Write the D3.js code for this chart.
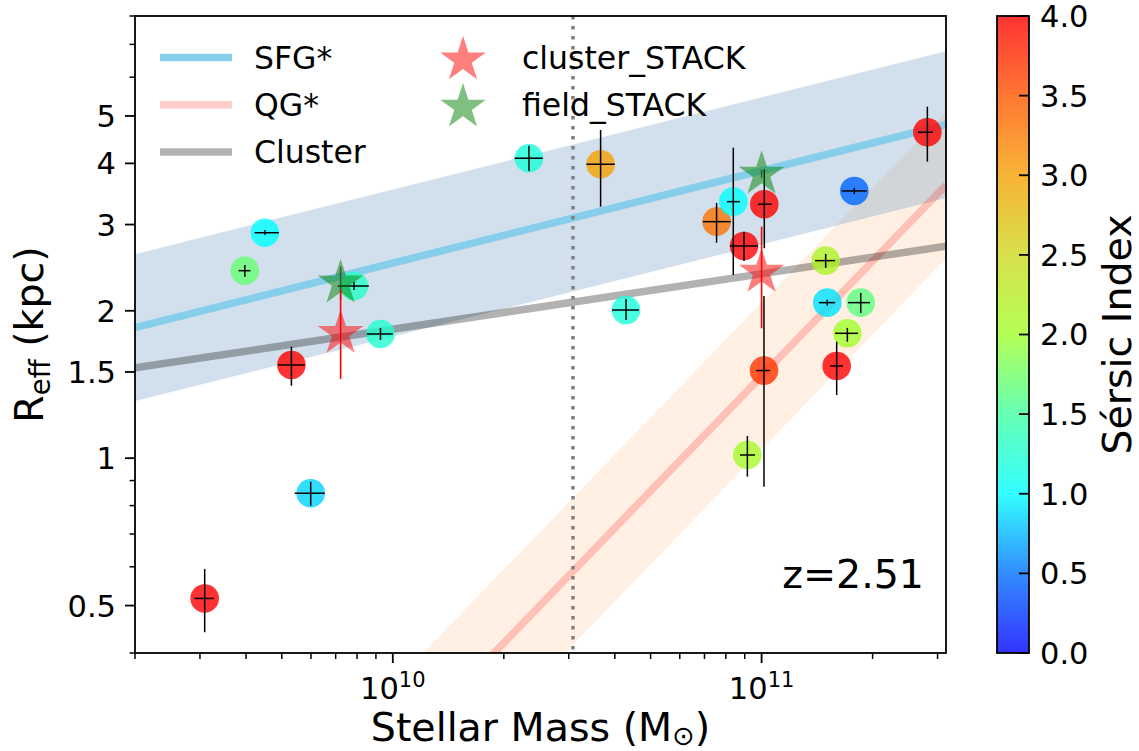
<!DOCTYPE html>
<html>
<head>
<meta charset="utf-8">
<script src="https://cdn.jsdelivr.net/npm/d3@7"></script>
<style>
  body { margin: 0; background: #fff; }
  svg { display: block; }
  text { font-family: "DejaVu Sans", sans-serif; fill: #000; }
</style>
</head>
<body>
<svg id="chart" width="1139" height="751"></svg>
<script>
// Effective radius vs stellar mass for cluster members at z=2.51, coloured by Sérsic index.

// ---- galaxies (stellar mass in Msun, Reff in kpc) ----
const mass    = [3.09e9, 5.99e9, 5.31e9, 4.50e9, 3.97e9, 7.85e9, 9.26e9, 2.34e10, 3.66e10, 4.29e10,
                 7.55e10, 8.38e10, 8.96e10, 1.017e11, 1.015e11, 9.15e10, 1.784e11, 1.492e11, 1.507e11,
                 1.857e11, 1.708e11, 1.598e11, 2.815e11];
const massLo  = [2.90e9, 5.42e9, 4.88e9, 4.22e9, 3.82e9, 7.09e9, 8.50e9, 2.14e10, 3.35e10, 3.93e10,
                 6.93e10, 8.06e10, 8.21e10, 9.78e10, 9.66e10, 8.74e10, 1.649e11, 1.396e11, 1.431e11,
                 1.715e11, 1.582e11, 1.533e11, 2.656e11];
const massHi  = [3.27e9, 6.54e9, 5.77e9, 4.91e9, 4.11e9, 8.61e9, 1.00e10, 2.55e10, 4.00e10, 4.65e10,
                 8.25e10, 8.74e10, 9.78e10, 1.065e11, 1.054e11, 9.60e10, 1.928e11, 1.582e11, 1.582e11,
                 1.968e11, 1.826e11, 1.663e11, 2.917e11];
const reff    = [0.517, 0.848, 1.550, 2.887, 2.415, 2.247, 1.793, 4.098, 3.984, 2.007,
                 3.041, 3.341, 2.713, 3.301, 1.510, 1.015, 3.514, 2.532, 2.078,
                 2.078, 1.799, 1.543, 4.631];
const reffLo  = [0.441, 0.799, 1.406, 2.856, 2.348, 2.205, 1.743, 3.860, 3.264, 1.915,
                 2.755, 2.366, 2.528, 2.684, 0.874, 0.917, 3.464, 2.446, 2.049,
                 1.980, 1.729, 1.346, 4.033];
const reffHi  = [0.594, 0.895, 1.689, 2.924, 2.481, 2.290, 1.845, 4.347, 4.681, 2.114,
                 3.321, 4.306, 2.901, 3.891, 2.144, 1.110, 3.564, 2.613, 2.107,
                 2.175, 1.845, 1.729, 5.223];
const sersic  = [4.0, 0.85, 4.0, 1.0, 1.7, 1.3, 1.25, 1.2, 3.0, 1.2,
                 3.3, 1.0, 4.0, 4.0, 3.7, 2.05, 0.45, 2.15, 0.9,
                 1.65, 2.0, 4.0, 4.0];

// ---- stacked measurements ----
const stackMass        = [7.22e9, 1.0e11];
const clusterStackReff = [1.798, 2.397];
const clusterStackLo   = [1.451, 1.842];
const clusterStackHi   = [2.205, 2.970];
const fieldStackReff   = [2.279, 3.802];
const fieldStackLo     = [2.104, 3.735];
const fieldStackHi     = [2.461, 3.878];

// ---- size-mass relations: Reff = A * (M / 5e10)^alpha, band = +/- scatter dex ----
const relPivot   = 5e10;
const sfgNorm = 3.39, sfgSlope = 0.1885, sfgScatter = 0.15;
const qgNorm  = 0.857, qgSlope = 0.78,  qgScatter  = 0.15;
const clusterNorm = 2.20, clusterSlope = 0.113;
const massLimit = 3.08e10;
const redshiftLabel = "z=2.51";

// ---- axis ticks ----
const yTickLabels = [0.5, 1, 1.5, 2, 3, 4, 5];
const cbarTicks   = [0, 0.5, 1, 1.5, 2, 2.5, 3, 3.5, 4];

// ---- colour map for the Sérsic index ----
const sersicStops  = [0, 0.5, 1, 1.5, 2, 2.5, 3, 3.5, 4];
const sersicColors = ["#0000ff", "#006fff", "#00ffff", "#40ffa1", "#a1ff2b",
                      "#cdd91e", "#f6a105", "#ff5500", "#ff0000"];

// ---- layout ----
const W = 1139, H = 751;
const plot = { left: 135, right: 946, top: 16, bottom: 653 };
const cbar = { left: 997, right: 1029 };
const tickFont = 30.5, legendFont = 31.5, labelFont = 39.5;

const svg = d3.select("#chart");
svg.append("rect").attr("width", W).attr("height", H).attr("fill", "#fff");

const x = d3.scaleLog().domain([2e9, Math.pow(10, 11.5)]).range([plot.left, plot.right]);
const y = d3.scaleLog().domain([0.4, 8]).range([plot.bottom, plot.top]);
const color = d3.scaleLinear().domain(sersicStops).range(sersicColors)
  .interpolate(d3.interpolateRgb).clamp(true);

svg.append("defs").append("clipPath").attr("id", "plotClip")
  .append("rect")
  .attr("x", plot.left).attr("y", plot.top)
  .attr("width", plot.right - plot.left).attr("height", plot.bottom - plot.top);

const g = svg.append("g").attr("clip-path", "url(#plotClip)");

const relation = (A, a) => m => A * Math.pow(m / relPivot, a);
const sfg = relation(sfgNorm, sfgSlope);
const qg = relation(qgNorm, qgSlope);
const clus = relation(clusterNorm, clusterSlope);
const ends = x.domain();

// scatter bands
function band(fn, dex, fill, op) {
  const f = Math.pow(10, dex);
  const area = d3.area().x(m => x(m)).y0(m => y(fn(m) / f)).y1(m => y(fn(m) * f));
  g.append("path").attr("d", area(ends)).attr("fill", fill).attr("fill-opacity", op);
}
band(qg, qgScatter, "#ffdab9", 0.4);
band(sfg, sfgScatter, "steelblue", 0.25);

// relations
function relLine(fn, stroke, op) {
  const line = d3.line().x(m => x(m)).y(m => y(fn(m)));
  g.append("path").attr("d", line(ends)).attr("fill", "none")
    .attr("stroke", stroke).attr("stroke-opacity", op).attr("stroke-width", 7.5);
}
relLine(sfg, "skyblue", 1);
relLine(qg, "red", 0.2);
relLine(clus, "black", 0.3);

// mass completeness limit
g.append("line")
  .attr("x1", x(massLimit)).attr("x2", x(massLimit))
  .attr("y1", plot.top).attr("y2", plot.bottom)
  .attr("stroke", "gray").attr("stroke-width", 3.5).attr("stroke-dasharray", "3.5 6.5");

// galaxies
const gal = mass.map((m, i) => ({ m, mLo: massLo[i], mHi: massHi[i], r: reff[i],
  rLo: reffLo[i], rHi: reffHi[i], n: sersic[i] }));

g.selectAll("circle.gal").data(gal).join("circle")
  .attr("class", "gal")
  .attr("cx", d => x(d.m)).attr("cy", d => y(d.r)).attr("r", 14.3)
  .attr("fill", d => color(d.n)).attr("fill-opacity", 0.8);

const eb = g.append("g").attr("stroke", "#000").attr("stroke-width", 1.5);
eb.selectAll("line.ex").data(gal).join("line").attr("class", "ex")
  .attr("x1", d => x(d.mLo)).attr("x2", d => x(d.mHi))
  .attr("y1", d => y(d.r)).attr("y2", d => y(d.r));
eb.selectAll("line.ey").data(gal).join("line").attr("class", "ey")
  .attr("x1", d => x(d.m)).attr("x2", d => x(d.m))
  .attr("y1", d => y(d.rLo)).attr("y2", d => y(d.rHi));

// stars
function starPath(R) {
  const pts = [];
  for (let k = 0; k < 10; k++) {
    const rr = k % 2 === 0 ? R : R * 0.381966;
    const a = -Math.PI / 2 + k * Math.PI / 5;
    pts.push([rr * Math.cos(a), rr * Math.sin(a)]);
  }
  return "M" + pts.map(p => p.join(",")).join("L") + "Z";
}
const starR = 24;

function stacks(vals, lo, hi, fill, errColor, errOp) {
  const d = stackMass.map((m, i) => ({ m, r: vals[i], lo: lo[i], hi: hi[i] }));
  const s = g.append("g");
  s.selectAll("path").data(d).join("path")
    .attr("d", starPath(starR))
    .attr("transform", p => `translate(${x(p.m)},${y(p.r)})`)
    .attr("fill", fill).attr("fill-opacity", 0.5);
  s.selectAll("line").data(d).join("line")
    .attr("x1", p => x(p.m)).attr("x2", p => x(p.m))
    .attr("y1", p => y(p.lo)).attr("y2", p => y(p.hi))
    .attr("stroke", errColor).attr("stroke-opacity", errOp).attr("stroke-width", 1.6);
}
stacks(fieldStackReff, fieldStackLo, fieldStackHi, "green", "#333", 0.7);
stacks(clusterStackReff, clusterStackLo, clusterStackHi, "red", "red", 1);

// ---- axes ----
const ax = svg.append("g");
ax.append("rect")
  .attr("x", plot.left).attr("y", plot.top)
  .attr("width", plot.right - plot.left).attr("height", plot.bottom - plot.top)
  .attr("fill", "none").attr("stroke", "#000").attr("stroke-width", 1.8);

// x ticks
const xt = x.ticks().filter(v => v >= ends[0] * 0.999 && v <= ends[1]);
xt.forEach(v => {
  const major = Math.abs(Math.log10(v) - Math.round(Math.log10(v))) < 1e-6;
  ax.append("line").attr("x1", x(v)).attr("x2", x(v))
    .attr("y1", plot.bottom).attr("y2", plot.bottom + (major ? 10 : 6))
    .attr("stroke", "#000").attr("stroke-width", major ? 1.8 : 1.5);
  if (major) {
    const t = ax.append("text").attr("x", x(v)).attr("y", 699)
      .attr("text-anchor", "middle").attr("font-size", tickFont);
    t.append("tspan").text("10");
    t.append("tspan").attr("font-size", 21).attr("dy", -12).text(Math.round(Math.log10(v)));
  }
});

// y ticks
const ymin = y.ticks().filter(v => !yTickLabels.some(l => Math.abs(l - v) < 1e-9));
ymin.forEach(v => {
  ax.append("line").attr("x1", plot.left - 5.5).attr("x2", plot.left)
    .attr("y1", y(v)).attr("y2", y(v)).attr("stroke", "#000").attr("stroke-width", 1.5);
});
yTickLabels.forEach(v => {
  ax.append("line").attr("x1", plot.left - 10).attr("x2", plot.left)
    .attr("y1", y(v)).attr("y2", y(v)).attr("stroke", "#000").attr("stroke-width", 1.8);
  ax.append("text").attr("x", plot.left - 19).attr("y", y(v))
    .attr("dy", "0.36em").attr("text-anchor", "end").attr("font-size", tickFont)
    .text(v);
});

// axis labels
const xl = svg.append("text").attr("x", (plot.left + plot.right) / 2).attr("y", 741)
  .attr("text-anchor", "middle").attr("font-size", labelFont);
xl.append("tspan").text("Stellar Mass (M");
xl.append("tspan").attr("font-size", 27).attr("dy", 4).text("\u2299");
xl.append("tspan").attr("dy", -4).text(")");

const yl = svg.append("text")
  .attr("transform", `translate(43,${(plot.top + plot.bottom) / 2}) rotate(-90)`)
  .attr("text-anchor", "middle").attr("font-size", labelFont);
yl.append("tspan").text("R");
yl.append("tspan").attr("font-size", 27.5).attr("dy", 7).text("eff");
yl.append("tspan").attr("dy", -7).text(" (kpc)");

svg.append("text").attr("x", 924).attr("y", 588).attr("text-anchor", "end")
  .attr("font-size", labelFont).text(redshiftLabel);

// ---- legend ----
const leg = svg.append("g");
const legLines = [
  { label: "SFG*", stroke: "skyblue", op: 1 },
  { label: "QG*", stroke: "red", op: 0.2 },
  { label: "Cluster", stroke: "black", op: 0.3 }
];
legLines.forEach((d, i) => {
  const yy = 57.5 + i * 47.3;
  leg.append("line").attr("x1", 160).attr("x2", 232).attr("y1", yy).attr("y2", yy)
    .attr("stroke", d.stroke).attr("stroke-opacity", d.op).attr("stroke-width", 7.5);
  leg.append("text").attr("x", 254).attr("y", yy + 11.3).attr("font-size", legendFont).text(d.label);
});
const legStars = [
  { label: "cluster_STACK", fill: "red" },
  { label: "field_STACK", fill: "green" }
];
legStars.forEach((d, i) => {
  const yy = 57.5 + i * 47.3;
  leg.append("path").attr("d", starPath(starR))
    .attr("transform", `translate(463,${yy + 2.3})`)
    .attr("fill", d.fill).attr("fill-opacity", 0.5);
  leg.append("text").attr("x", 522).attr("y", yy + 11.3).attr("font-size", legendFont).text(d.label);
});

// ---- colour bar ----
const cy = d3.scaleLinear().domain([0, 4]).range([plot.bottom, plot.top]);
const grad = svg.select("defs").append("linearGradient").attr("id", "cbarGrad")
  .attr("x1", 0).attr("y1", 1).attr("x2", 0).attr("y2", 0);
d3.range(0, 4.0001, 0.1).forEach(v => {
  grad.append("stop").attr("offset", v / 4).attr("stop-color", color(v));
});
svg.append("rect")
  .attr("x", cbar.left).attr("y", plot.top)
  .attr("width", cbar.right - cbar.left).attr("height", plot.bottom - plot.top)
  .attr("fill", "url(#cbarGrad)").attr("fill-opacity", 0.8);
svg.append("rect")
  .attr("x", cbar.left).attr("y", plot.top)
  .attr("width", cbar.right - cbar.left).attr("height", plot.bottom - plot.top)
  .attr("fill", "none").attr("stroke", "#000").attr("stroke-width", 1.8);
cbarTicks.forEach(v => {
  svg.append("line").attr("x1", cbar.right - 10).attr("x2", cbar.right)
    .attr("y1", cy(v)).attr("y2", cy(v)).attr("stroke", "#000").attr("stroke-width", 1.8);
  svg.append("text").attr("x", 1040).attr("y", cy(v)).attr("dy", "0.36em")
    .attr("font-size", tickFont).text(v.toFixed(1));
});
svg.append("text")
  .attr("transform", `translate(1131,${(plot.top + plot.bottom) / 2}) rotate(-90)`)
  .attr("text-anchor", "middle").attr("font-size", labelFont).text("Sérsic Index");
</script>
</body>
</html>
